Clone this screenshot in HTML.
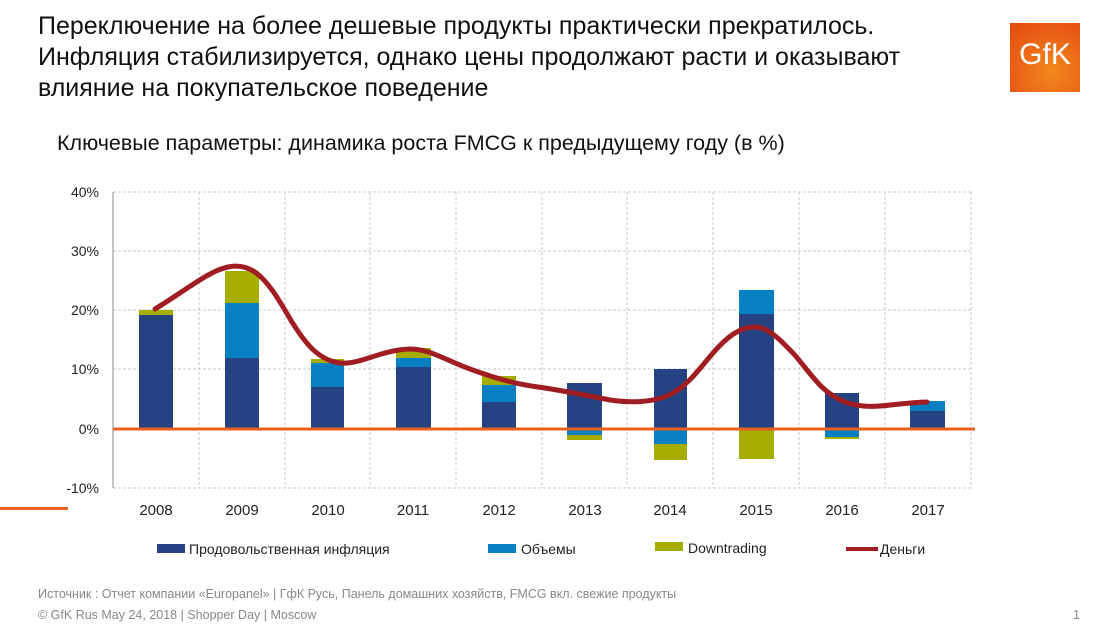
<!DOCTYPE html>
<html><head><meta charset="utf-8"><style>
body{margin:0;width:1120px;height:626px;background:#fff;font-family:"Liberation Sans",sans-serif;position:relative;overflow:hidden}
.t{position:absolute;white-space:nowrap}
</style></head><body>
<div class="t" style="left:38px;top:11px;font-size:25px;line-height:31px;color:#111">Переключение на более дешевые продукты практически прекратилось.<br>Инфляция стабилизируется, однако цены продолжают расти и оказывают<br>влияние на покупательское поведение</div>
<div class="t" style="left:57px;top:131px;font-size:21.5px;color:#111">Ключевые параметры: динамика роста FMCG к предыдущему году (в %)</div>
<div style="position:absolute;left:1010px;top:23px;width:70px;height:69px;background:radial-gradient(circle at 60% 70%,#f28a1c,#e85a14 70%,#e04a10);"></div>
<div class="t" style="left:1010px;top:38px;width:70px;text-align:center;color:#fff;font-size:30px;letter-spacing:0px">GfK</div>
<div style="position:absolute;left:0;top:507px;width:68px;height:3px;background:#e8601c"></div>
<svg width="1120" height="626" style="position:absolute;left:0;top:0" font-family="Liberation Sans, sans-serif">
<g stroke="#c8c8c8" stroke-dasharray="3,2" stroke-width="1">
<line x1="113" y1="192" x2="971" y2="192"/><line x1="113" y1="251" x2="971" y2="251"/><line x1="113" y1="310" x2="971" y2="310"/><line x1="113" y1="369" x2="971" y2="369"/><line x1="113" y1="488" x2="971" y2="488"/>
<line x1="199" y1="192" x2="199" y2="488"/><line x1="285" y1="192" x2="285" y2="488"/><line x1="370" y1="192" x2="370" y2="488"/><line x1="456" y1="192" x2="456" y2="488"/><line x1="542" y1="192" x2="542" y2="488"/><line x1="627" y1="192" x2="627" y2="488"/><line x1="713" y1="192" x2="713" y2="488"/><line x1="799" y1="192" x2="799" y2="488"/><line x1="885" y1="192" x2="885" y2="488"/><line x1="971" y1="192" x2="971" y2="488"/>
</g>
<line x1="113" y1="192" x2="113" y2="488" stroke="#888"/>
<g font-size="14" fill="#222" text-anchor="end">
<text x="99" y="197">40%</text><text x="99" y="256">30%</text><text x="99" y="315">20%</text><text x="99" y="374">10%</text><text x="99" y="434">0%</text><text x="99" y="493">-10%</text>
</g>
<g font-size="15" fill="#222" text-anchor="middle">
<text x="156" y="515">2008</text><text x="242" y="515">2009</text><text x="328" y="515">2010</text><text x="413" y="515">2011</text><text x="499" y="515">2012</text><text x="585" y="515">2013</text><text x="670" y="515">2014</text><text x="756" y="515">2015</text><text x="842" y="515">2016</text><text x="928" y="515">2017</text>
</g>
<g fill="#254282">
<rect x="139" y="315" width="34" height="114"/><rect x="225" y="358" width="34" height="71"/><rect x="311" y="387" width="33" height="42"/><rect x="396" y="367" width="35" height="62"/><rect x="482" y="402" width="34" height="27"/><rect x="567" y="383" width="35" height="46"/><rect x="654" y="369" width="33" height="60"/><rect x="739" y="314" width="35" height="115"/><rect x="825" y="393" width="34" height="36"/><rect x="910" y="411" width="35" height="18"/>
</g>
<g fill="#0780c3">
<rect x="225" y="303" width="34" height="55"/><rect x="311" y="363" width="33" height="24"/><rect x="396" y="358" width="35" height="9"/><rect x="482" y="385" width="34" height="17"/><rect x="567" y="429" width="35" height="6"/><rect x="654" y="429" width="33" height="15"/><rect x="739" y="290" width="35" height="24"/><rect x="825" y="429" width="34" height="8"/><rect x="910" y="401" width="35" height="10"/>
</g>
<g fill="#a5ae00">
<rect x="139" y="310" width="34" height="5"/><rect x="225" y="271" width="34" height="32"/><rect x="311" y="359" width="33" height="4"/><rect x="396" y="348" width="35" height="10"/><rect x="482" y="376" width="34" height="9"/><rect x="567" y="435" width="35" height="5"/><rect x="654" y="444" width="33" height="16"/><rect x="739" y="429" width="35" height="30"/><rect x="825" y="437" width="34" height="2"/>
</g>
<line x1="113" y1="429" x2="975" y2="429" stroke="#e8601c" stroke-width="3"/>
<path d="M155,309 C175,297 195,282 210,274 C225,266 240,262 255,272 C270,283 280,302 292,322 C305,343 318,360 340,363 C360,365 380,350 410,349 C430,349 445,360 470,369 C500,380 520,385 545,388 C570,392 590,396 610,400 C630,403 655,403 673,393 C690,383 700,368 713,353 C726,338 740,326 756,327 C770,328 782,342 793,353 C810,372 820,392 845,402 C865,409 880,406 900,404 C912,403 920,402 927,402" fill="none" stroke="#a01d22" stroke-width="5" stroke-linecap="round"/>
<g font-size="14" fill="#222">
<rect x="157" y="544" width="28" height="9" fill="#254282"/><text x="189" y="554">Продовольственная инфляция</text>
<rect x="488" y="544" width="28" height="9" fill="#0780c3"/><text x="521" y="554">Объемы</text>
<rect x="655" y="542" width="28" height="9" fill="#a5ae00"/><text x="688" y="553">Downtrading</text>
<line x1="846" y1="549" x2="878" y2="549" stroke="#a01d22" stroke-width="4"/><text x="880" y="554">Деньги</text>
</g>
<g font-size="12.5" fill="#888">
<text x="38" y="598">Источник : Отчет компании «Europanel» | ГфК Русь, Панель домашних хозяйств, FMCG вкл. свежие продукты</text>
<text x="38" y="619">© GfK Rus May 24, 2018 | Shopper Day | Moscow</text>
<text x="1073" y="619">1</text>
</g>
</svg>
</body></html>
